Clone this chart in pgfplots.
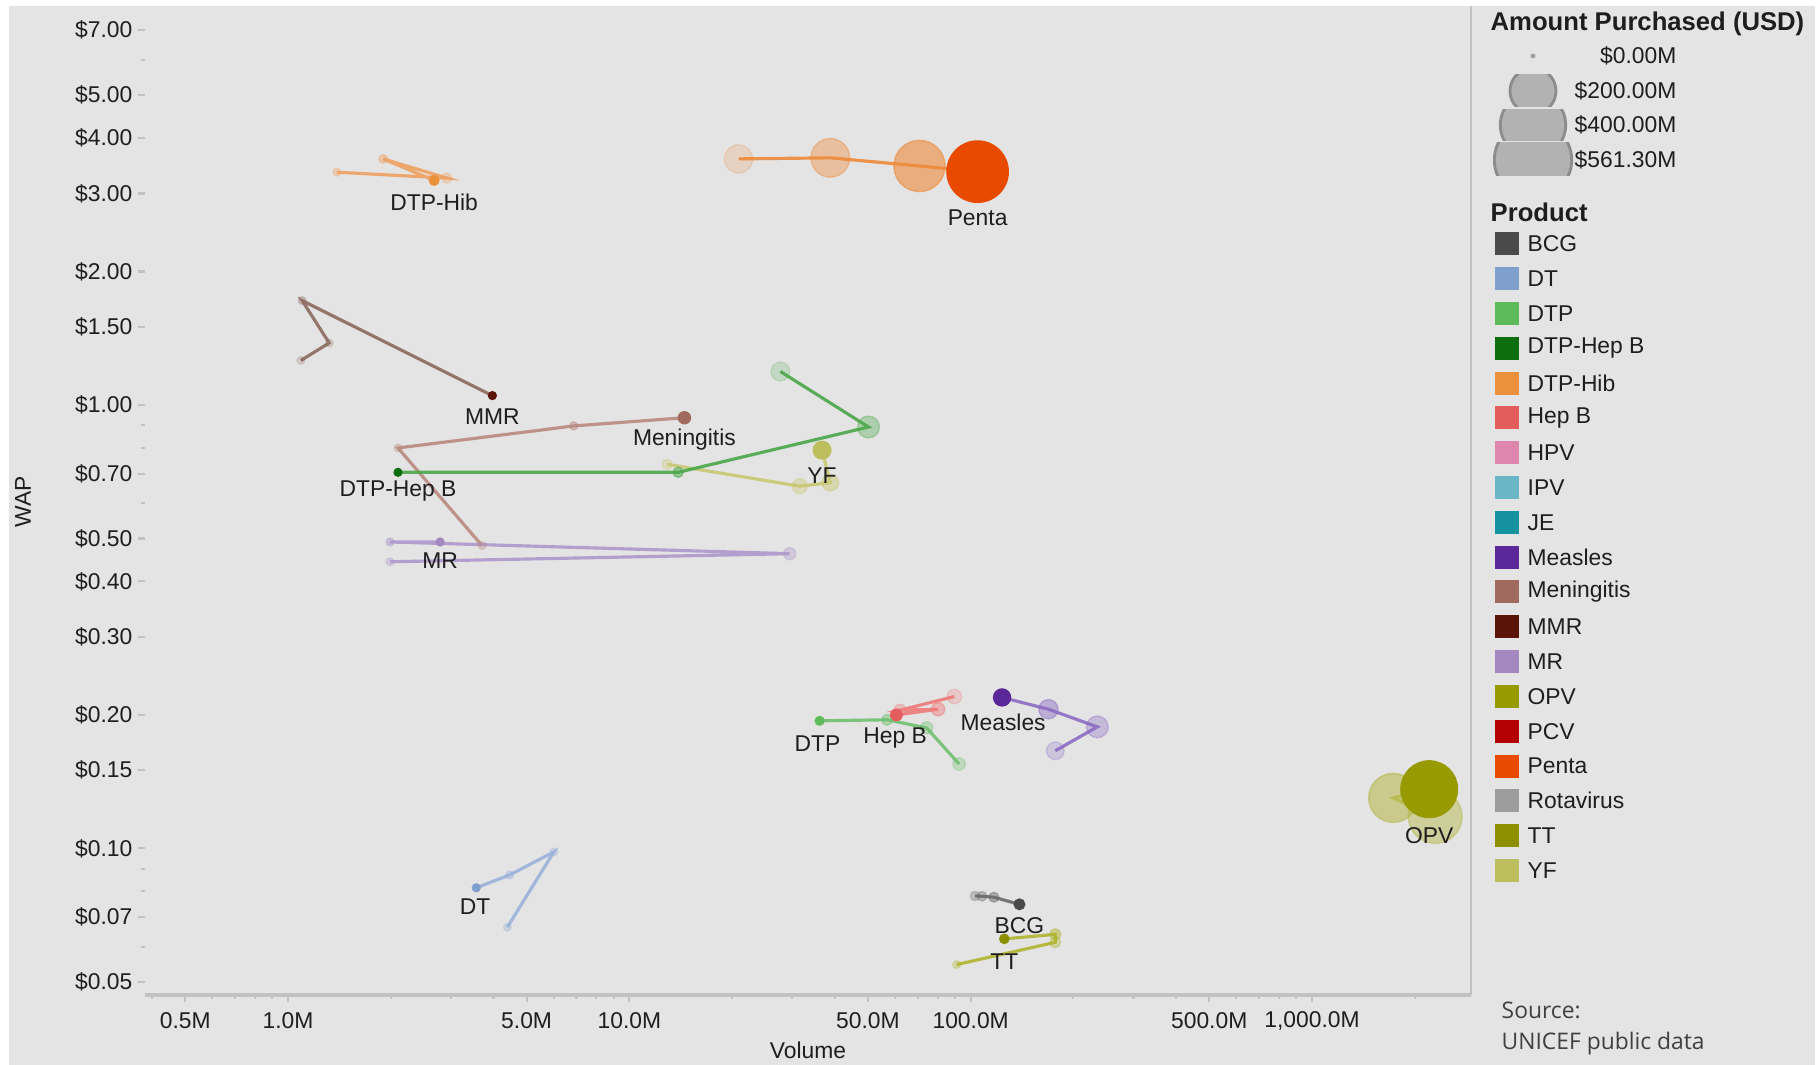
\documentclass[border=0pt]{standalone}
\usepackage{pgfplots}
\usepackage{pgfplotstable}
\pgfplotsset{compat=1.18}
\usepackage{fontspec}
\setmainfont{Liberation Sans}
\newfontfamily\srcfont{Open Sans}

\definecolor{bgc}{HTML}{E4E4E4}
\definecolor{axc}{HTML}{C2C2C2}
\definecolor{txt}{HTML}{1E1E1E}
% legend / latest-mark colours
\definecolor{cBCG}{HTML}{4A4A4A}
\definecolor{cDT}{HTML}{7FA0CC}
\definecolor{cDTP}{HTML}{5DBB5A}
\definecolor{cDTPHepB}{HTML}{0C6E0C}
\definecolor{cDTPHib}{HTML}{EB913C}
\definecolor{cHepB}{HTML}{E35D5D}
\definecolor{cHPV}{HTML}{DE86AE}
\definecolor{cIPV}{HTML}{6BB6C6}
\definecolor{cJE}{HTML}{1592A0}
\definecolor{cMeasles}{HTML}{5C2899}
\definecolor{cMening}{HTML}{A06A5E}
\definecolor{cMMR}{HTML}{5A1408}
\definecolor{cMR}{HTML}{A288BE}
\definecolor{cOPV}{HTML}{979A00}
\definecolor{cPCV}{HTML}{B40000}
\definecolor{cPenta}{HTML}{E84A00}
\definecolor{cRota}{HTML}{9C9C9C}
\definecolor{cTT}{HTML}{8E9000}
\definecolor{cYF}{HTML}{BDBE5E}
% lighter trail colours (history lines and faded marks)
\definecolor{tPenta}{HTML}{EE8A3A}
\definecolor{tDTPHib}{HTML}{EFA060}
\definecolor{tMMR}{HTML}{8C6A60}
\definecolor{tMening}{HTML}{B88A80}
\definecolor{tDTPHepB}{HTML}{4AA84A}
\definecolor{tYF}{HTML}{C8C870}
\definecolor{tMR}{HTML}{AE98CC}
\definecolor{tDT}{HTML}{9AB2DA}
\definecolor{tDTP}{HTML}{70C070}
\definecolor{tHepB}{HTML}{EE7A7A}
\definecolor{tMeasles}{HTML}{8C6CC4}
\definecolor{tBCG}{HTML}{6A6A6A}
\definecolor{tTT}{HTML}{B0B530}
\definecolor{tOPV}{HTML}{B8BA50}

\newcommand\sz{\fontsize{6.5}{7.8}\selectfont}
\newcommand\hd{\fontsize{7.3}{8.8}\selectfont\bfseries}

% x = volume (M doses), y = WAP (USD), o = fade of the mark (last row = latest)
\pgfplotstableread{
x y o
20.9 3.59 0.2
38.8 3.61 0.4
70.8 3.46 0.6
104.8 3.36 1
}\dPenta
\pgfplotstableread{
x y o
1.39 3.35 0.3
2.92 3.25 0.3
1.90 3.59 0.4
2.68 3.21 1
}\dDTPHib
\pgfplotstableread{
x y o
1.09 1.26 0.2
1.32 1.38 0.2
1.10 1.72 0.3
3.97 1.05 1
}\dMMR
\pgfplotstableread{
x y o
3.70 0.482 0.3
2.10 0.80 0.3
6.87 0.897 0.45
14.5 0.936 1
}\dMening
\pgfplotstableread{
x y o
27.7 1.19 0.2
50.2 0.892 0.35
13.9 0.705 0.5
2.10 0.705 1
}\dDTPHepB
\pgfplotstableread{
x y o
12.9 0.735 0.3
31.6 0.656 0.35
38.8 0.668 0.45
36.7 0.791 1
}\dYF
\pgfplotstableread{
x y o
1.99 0.443 0.3
29.5 0.462 0.35
1.99 0.491 0.45
2.79 0.491 1
}\dMR
\pgfplotstableread{
x y o
4.39 0.0664 0.3
6.01 0.0982 0.3
4.46 0.0871 0.4
3.56 0.0815 1
}\dDT
\pgfplotstableread{
x y o
92.5 0.155 0.3
74.3 0.187 0.35
56.9 0.195 0.45
36.1 0.194 1
}\dDTP
\pgfplotstableread{
x y o
89.6 0.220 0.25
62.1 0.205 0.35
80.3 0.206 0.45
60.6 0.200 1
}\dHepB
\pgfplotstableread{
x y o
177 0.166 0.25
235 0.188 0.35
169 0.206 0.45
123.6 0.219 1
}\dMeasles
\pgfplotstableread{
x y o
103 0.0781 0.3
108 0.0780 0.35
117 0.0776 0.45
139 0.0748 1
}\dBCG
\pgfplotstableread{
x y o
91 0.0547 0.3
177 0.0614 0.35
177 0.0640 0.45
125.5 0.0625 1
}\dTT
\pgfplotstableread{
x y o
2296 0.118 0.5
1730 0.130 0.6
2206 0.136 1
}\dOPV

\pgfplotsset{
  trail/.style={no marks, line width=0.9pt, draw=#1, draw opacity=0.9},
  bub/.style={scatter, only marks, mark=*,
    visualization depends on={max(0.465*sqrt(\thisrow{x}*\thisrow{y}),1.1) \as \msize},
    visualization depends on={\thisrow{o} \as \mop},
    scatter/use mapped color={draw=#1, fill=#1},
    scatter/@pre marker code/.append style={/tikz/mark size=\msize},
    scatter/@pre marker code/.append code={\pgfsetfillopacity{\mop}\pgfsetstrokeopacity{\mop}}},
}
% #1 table, #2 latest colour, #3 trail colour, #4 index of the latest row
\newcommand\product[4]{%
  \addplot[bub=#3, skip coords between index={#4}{99}] table {#1};
  \addplot[trail=#3] table {#1};
  \addplot[bub=#2, skip coords between index={0}{#4}] table {#1};
}

\begin{document}
\begin{tikzpicture}[x=1cm,y=1cm]
\useasboundingbox (0,0) rectangle (18.2,10.65);
\fill[white] (0,0) rectangle (18.2,10.65);
\fill[bgc] (0.09,0) rectangle (18.15,10.59);
\begin{axis}[
  at={(1.45cm,0.70cm)}, anchor=south west,
  scale only axis, width=13.26cm, height=9.86cm,
  xmode=log, ymode=log,
  xmin=0.381, xmax=2924, ymin=0.0467, ymax=7.82,
  axis line style={draw=none},
  tick align=outside, xtick pos=bottom, ytick pos=left,
  major tick length=0.07cm, minor tick length=0.04cm,
  tick style={color=axc, line width=0.6pt},
  xtick={0.5,1,5,10,50,100,500,1000},
  xticklabels={0.5M,1.0M,5.0M,10.0M,50.0M,100.0M,500.0M,{1,000.0M}},
  minor xtick={0.4,0.6,0.7,0.8,0.9,2,3,4,6,7,8,9,20,30,40,60,70,80,90,200,300,400,600,700,800,900,2000},
  ytick={0.05,0.07,0.1,0.15,0.2,0.3,0.4,0.5,0.7,1,1.5,2,3,4,5,7},
  yticklabels={\$0.05,\$0.07,\$0.10,\$0.15,\$0.20,\$0.30,\$0.40,\$0.50,\$0.70,\$1.00,\$1.50,\$2.00,\$3.00,\$4.00,\$5.00,\$7.00},
  minor ytick={0.06,0.08,0.09,0.6,0.8,0.9,6},
  tick label style={font=\sz, text=txt},
  xticklabel style={anchor=center, yshift=-0.19cm},
  yticklabel style={anchor=east, inner sep=0pt, xshift=-0.05cm},
  xlabel={Volume}, ylabel={WAP},
  every axis x label/.style={at={(axis description cs:0.5,-0.0558)}, anchor=center, font=\sz, text=txt},
  every axis y label/.style={at={(axis description cs:-0.092,0.5)}, anchor=center, rotate=90, font=\sz, text=txt},
  clip=false,
]
\draw[axc, line width=1.2pt] (rel axis cs:0,0) -- (rel axis cs:1,0);

\product{\dPenta}{cPenta}{tPenta}{3}
\product{\dDTPHib}{cDTPHib}{tDTPHib}{3}
\product{\dMMR}{cMMR}{tMMR}{3}
\product{\dMening}{cMening}{tMening}{3}
\product{\dMR}{cMR}{tMR}{3}
\product{\dYF}{cYF}{tYF}{3}
\product{\dDTPHepB}{cDTPHepB}{tDTPHepB}{3}
\product{\dDT}{cDT}{tDT}{3}
\product{\dDTP}{cDTP}{tDTP}{3}
\product{\dHepB}{cHepB}{tHepB}{3}
\product{\dMeasles}{cMeasles}{tMeasles}{3}
\product{\dBCG}{cBCG}{tBCG}{3}
\product{\dTT}{cTT}{tTT}{3}
\product{\dOPV}{cOPV}{tOPV}{2}

% label anchors, drawn after the axis so they sit on top
\coordinate (lDTPHib) at (axis cs:2.68,2.87);
\coordinate (lPenta) at (axis cs:104.8,2.64);
\coordinate (lMMR) at (axis cs:3.97,0.942);
\coordinate (lMening) at (axis cs:14.5,0.834);
\coordinate (lDTPHepB) at (axis cs:2.10,0.640);
\coordinate (lYF) at (axis cs:36.7,0.692);
\coordinate (lMR) at (axis cs:2.79,0.446);
\coordinate (lDT) at (axis cs:3.53,0.074);
\coordinate (lDTP) at (axis cs:35.6,0.172);
\coordinate (lHepB) at (axis cs:60.1,0.177);
\coordinate (lMeasles) at (axis cs:124.5,0.192);
\coordinate (lBCG) at (axis cs:139,0.0668);
\coordinate (lTT) at (axis cs:125.5,0.0554);
\coordinate (lOPV) at (axis cs:2206,0.107);
\end{axis}

\begin{scope}[every node/.style={font=\sz, text=txt, inner sep=0pt}]
\node at (lDTPHib) {DTP-Hib};
\node at (lPenta) {Penta};
\node at (lMMR) {MMR};
\node at (lMening) {Meningitis};
\node at (lDTPHepB) {DTP-Hep B};
\node at (lYF) {YF};
\node at (lMR) {MR};
\node at (lDT) {DT};
\node at (lDTP) {DTP};
\node at (lHepB) {Hep B};
\node at (lMeasles) {Measles};
\node at (lBCG) {BCG};
\node at (lTT) {TT};
\node at (lOPV) {OPV};
\end{scope}

% separator between plot and legends
\draw[axc, line width=0.8pt] (14.71,0.70) -- (14.71,10.59);

% size legend
\node[anchor=west, inner sep=0pt, text=txt, font=\hd] at (14.90,10.41) {Amount Purchased (USD)};
\fill[gray!75] (15.33,10.09) circle (0.025);
\begin{scope}\clip (14.8,9.58) rectangle (15.9,9.90);
\filldraw[fill=black!30, draw=black!45, line width=0.8pt] (15.33,9.74) circle (0.23);\end{scope}
\begin{scope}\clip (14.8,9.24) rectangle (15.9,9.55);
\filldraw[fill=black!30, draw=black!45, line width=0.8pt] (15.33,9.40) circle (0.327);\end{scope}
\begin{scope}\clip (14.8,8.89) rectangle (15.9,9.22);
\filldraw[fill=black!30, draw=black!45, line width=0.8pt] (15.33,9.05) circle (0.387);\end{scope}
\begin{scope}[every node/.style={anchor=east, inner sep=0pt, text=txt, font=\sz}]
\node at (16.77,10.09) {\$0.00M};
\node at (16.77,9.74) {\$200.00M};
\node at (16.77,9.40) {\$400.00M};
\node at (16.77,9.05) {\$561.30M};
\end{scope}

% colour legend
\node[anchor=west, inner sep=0pt, text=txt, font=\hd] at (14.90,8.53) {Product};
\foreach \n/\c [count=\i from 0] in {BCG/cBCG, DT/cDT, DTP/cDTP, DTP-Hep B/cDTPHepB,
  DTP-Hib/cDTPHib, Hep B/cHepB, HPV/cHPV, IPV/cIPV, JE/cJE, Measles/cMeasles,
  Meningitis/cMening, MMR/cMMR, MR/cMR, OPV/cOPV, PCV/cPCV, Penta/cPenta,
  Rotavirus/cRota, TT/cTT, YF/cYF}{
  \fill[\c] (14.95,{8.21-0.348*\i-0.115}) rectangle (15.19,{8.21-0.348*\i+0.115});
  \node[anchor=west, inner sep=0pt, text=txt, font=\sz] at (15.27,{8.21-0.348*\i}) {\n};
}

% source note
\node[anchor=west, inner sep=0pt, text=black!75, font=\srcfont\fontsize{6.5}{7.8}\selectfont] at (15.01,0.55) {Source:};
\node[anchor=west, inner sep=0pt, text=black!75, font=\srcfont\fontsize{6.5}{7.8}\selectfont] at (15.01,0.21) {UNICEF public data};
\end{tikzpicture}
\end{document}
